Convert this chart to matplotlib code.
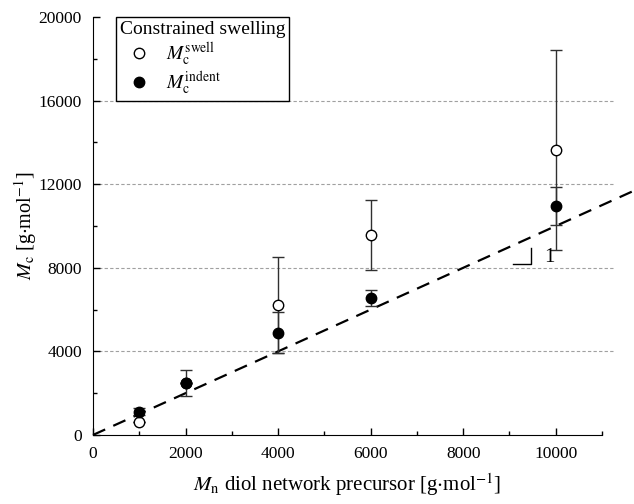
import numpy as np
from matplotlib import pyplot as plt
from matplotlib.lines import Line2D

plt.rcParams['font.family'] = ['Liberation Serif', 'DejaVu Serif']
plt.rcParams['mathtext.fontset'] = 'stix'

# data
mn = [1000, 2000, 4000, 6000, 10000]
mc_swell = [640, 2470, 6200, 9590, 13640]
mc_swell_err = [0, 0, 2300, 1680, 4800]
mc_indent = [1120, 2470, 4900, 6560, 10950]
mc_indent_err = [150, 620, 1000, 400, 900]
grid_levels = [4000, 8000, 12000, 16000]
guide_x = [0, 11800]

fig = plt.figure(figsize=(6.34, 5.04), dpi=100)
ax = fig.add_axes([0.1467, 0.137, 0.8028, 0.829])

ax.hlines(grid_levels, 0, 11250, colors='#a0a0a0', linestyles=(0, (3, 2)),
          linewidth=0.8, clip_on=False, zorder=0)

ax.plot(guide_x, guide_x, color='black', linestyle=(0, (6, 4)), linewidth=1.6,
        clip_on=False, zorder=2)

ax.errorbar(mn, mc_swell, yerr=mc_swell_err, fmt='o', mfc='white', mec='black',
            ms=7.5, mew=1.0, ecolor='#303030', elinewidth=1.0, capsize=4,
            capthick=1.0, zorder=3)
ax.errorbar(mn, mc_indent, yerr=mc_indent_err, fmt='o', mfc='black', mec='black',
            ms=7.5, ecolor='#303030', elinewidth=1.0, capsize=4,
            capthick=1.0, zorder=4)

# slope triangle
ax.plot([9085, 9470, 9470], [8200, 8200, 8935], color='black', linewidth=1.0)
ax.text(9750, 8050, '1', fontsize=15, ha='left', va='bottom')

ax.set_xlim(0, 11000)
ax.set_ylim(0, 20000)
ax.set_xticks(np.arange(0, 10001, 2000))
ax.set_xticks(np.arange(1000, 11001, 2000), minor=True)
ax.set_yticks(np.arange(0, 20001, 4000))
ax.set_yticks(np.arange(2000, 20000, 4000), minor=True)
ax.tick_params(direction='in', labelsize=12.5, length=5, width=1.0, pad=8)
ax.tick_params(which='minor', direction='in', length=3, width=1.0)
ax.spines['top'].set_visible(False)
ax.spines['right'].set_visible(False)

ax.set_xlabel(r'$M_\mathrm{n}$ diol network precursor [g$\cdot$mol$^{-1}$]',
              fontsize=15, labelpad=7)
ax.set_ylabel(r'$M_\mathrm{c}$ [g$\cdot$mol$^{-1}$]', fontsize=14.5, labelpad=0)

handles = [
    Line2D([], [], marker='o', linestyle='none', mfc='white', mec='black', ms=7.5),
    Line2D([], [], marker='o', linestyle='none', mfc='black', mec='black', ms=7.5),
]
leg = ax.legend(handles, [r'$M_\mathrm{c}^\mathrm{swell}$', r'$M_\mathrm{c}^\mathrm{indent}$'],
                title='Constrained swelling', loc='upper left',
                bbox_to_anchor=(0.045, 1.0), borderaxespad=0, fontsize=14,
                title_fontsize=14, fancybox=False, edgecolor='black', framealpha=1,
                handletextpad=0.4, borderpad=0.2, labelspacing=0.1)
leg.get_frame().set_linewidth(1.0)
leg._legend_box.align = 'left'

fig.savefig('out.png', dpi=100)
